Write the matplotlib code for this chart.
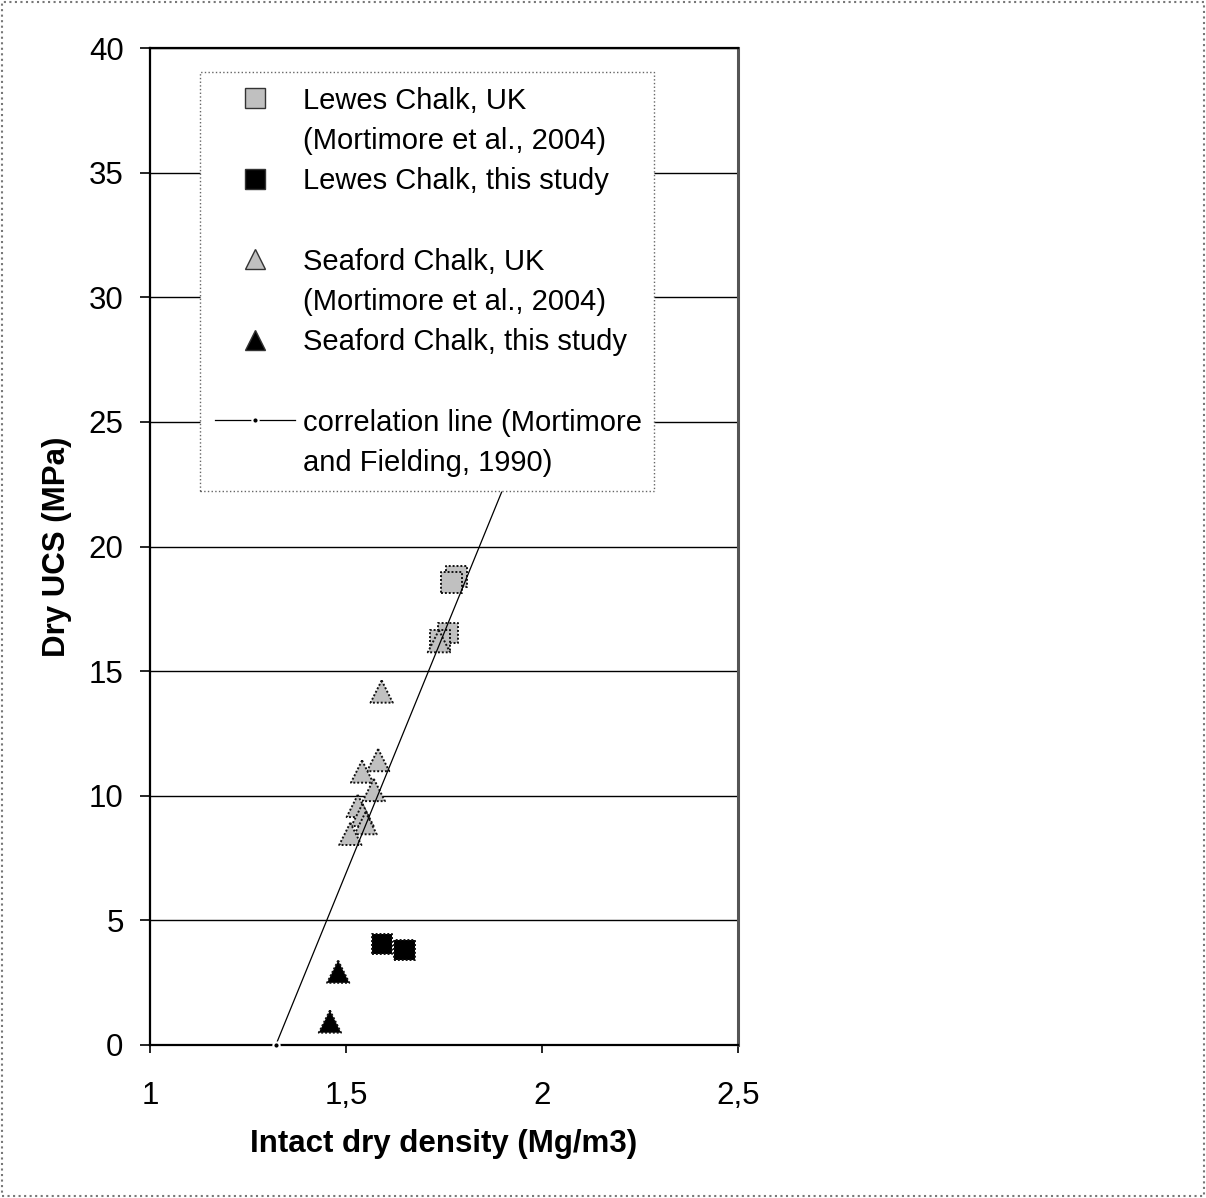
import matplotlib
matplotlib.use("Agg")
import matplotlib.pyplot as plt
from matplotlib.lines import Line2D
from matplotlib.patches import Rectangle

plt.rcParams['font.family'] = ['Liberation Sans', 'DejaVu Sans']

# Lewes Chalk, UK (Mortimore et al., 2004)
lewes_uk_density = [1.781, 1.770, 1.760, 1.740]
lewes_uk_ucs = [18.78, 18.54, 16.53, 16.25]

# Lewes Chalk, this study
lewes_new_density = [1.592, 1.649]
lewes_new_ucs = [4.05, 3.81]

# Seaford Chalk, UK (Mortimore et al., 2004)
seaford_uk_density = [1.737, 1.591, 1.582, 1.541, 1.571, 1.530, 1.542, 1.550, 1.511]
seaford_uk_ucs = [16.2, 14.18, 11.43, 10.97, 10.23, 9.59, 9.23, 8.90, 8.47]

# Seaford Chalk, this study
seaford_new_density = [1.480, 1.459]
seaford_new_ucs = [2.94, 0.94]

# correlation line (Mortimore and Fielding, 1990)
corr_density = [1.321, 2.1]
corr_ucs = [0.0, 30.0]

x_ticks = [1, 1.5, 2, 2.5]
x_tick_labels = ["1", "1,5", "2", "2,5"]
y_ticks = [0, 5, 10, 15, 20, 25, 30, 35, 40]

fig = plt.figure(figsize=(12.06, 11.98), dpi=100)
ax = fig.add_axes([150 / 1206, 1 - 1045 / 1198, 588 / 1206, 997 / 1198])

gray = '#c0c0c0'
dots = (0, (1, 1))

ax.scatter(lewes_uk_density, lewes_uk_ucs, marker='s', s=15 ** 2, c=gray,
           edgecolors='#111111', linewidths=1.4, linestyle=dots, zorder=3)
ax.scatter(seaford_uk_density, seaford_uk_ucs, marker='^', s=16 ** 2, c=gray,
           edgecolors='#111111', linewidths=1.4, linestyle=dots, zorder=3)
ax.scatter(lewes_new_density, lewes_new_ucs, marker='s', s=15 ** 2, c='black',
           edgecolors='#111111', linewidths=1.4, linestyle=dots, zorder=3)
ax.scatter(seaford_new_density, seaford_new_ucs, marker='^', s=16 ** 2, c='black',
           edgecolors='#111111', linewidths=1.4, linestyle=dots, zorder=3)
ax.plot(corr_density, corr_ucs, color='black', lw=0.9, marker='o', ms=4.5,
        mfc='black', mec='white', mew=1.5, zorder=4, clip_on=False)

ax.set_xlim(1, 2.5)
ax.set_ylim(0, 40)
ax.set_xticks(x_ticks)
ax.set_xticklabels(x_tick_labels)
ax.set_yticks(y_ticks)
ax.tick_params(axis='x', direction='out', length=6, width=1.2, pad=20, labelsize=22.5)
ax.tick_params(axis='y', direction='out', length=7, width=1.2, pad=12, labelsize=22.5)
ax.yaxis.grid(True, color='black', lw=1.0)
ax.set_axisbelow(True)

for side in ['left', 'bottom', 'top']:
    ax.spines[side].set_color('black')
    ax.spines[side].set_linewidth(1.6)
ax.spines['right'].set_color('#555555')
ax.spines['right'].set_linewidth(2.2)

ax.set_xlabel("Intact dry density (Mg/m3)", fontsize=22.5, fontweight='bold')
ax.set_ylabel("Dry UCS (MPa)", fontsize=22.5, fontweight='bold')
ax.xaxis.set_label_coords(0.5, -0.084)
ax.yaxis.set_label_coords(-0.133, 0.5)

# legend, one text line per row
blank = Line2D([], [], linestyle='none', marker=None)
handles = [
    Line2D([], [], linestyle='none', marker='s', ms=14, mfc=gray, mec='#333333', mew=1.0),
    blank,
    Line2D([], [], linestyle='none', marker='s', ms=14, mfc='black', mec='#333333', mew=1.0),
    blank,
    Line2D([], [], linestyle='none', marker='^', ms=15, mfc=gray, mec='#333333', mew=1.0),
    blank,
    Line2D([], [], linestyle='none', marker='^', ms=15, mfc='black', mec='#333333', mew=1.0),
    blank,
    Line2D([], [], color='black', lw=0.9, marker='o', ms=4.5, mfc='black', mec='white', mew=1.5),
    blank,
]
labels = [
    "Lewes Chalk, UK", "(Mortimore et al., 2004)",
    "Lewes Chalk, this study", " ",
    "Seaford Chalk, UK", "(Mortimore et al., 2004)",
    "Seaford Chalk, this study", " ",
    "correlation line (Mortimore", "and Fielding, 1990)",
]
leg = ax.legend(handles, labels, loc='upper left',
                bbox_to_anchor=(50 / 588, (1045 - 72) / 997, 454 / 588, 0),
                mode='expand', fontsize=21, frameon=True, fancybox=False,
                framealpha=1, borderpad=0.5, labelspacing=0.42,
                handlelength=2.75, handletextpad=0.27, borderaxespad=0)
frame = leg.get_frame()
frame.set_edgecolor('#666666')
frame.set_linewidth(1.0)
frame.set_linestyle(':')

# dotted border around the whole chart
fig.patches.append(Rectangle((2 / 1206, 2 / 1198), 1 - 4 / 1206, 1 - 4 / 1198,
                             transform=fig.transFigure, fill=False,
                             edgecolor='#777777', lw=1.5, linestyle=':'))

fig.savefig("out.png", dpi=100, facecolor='white')
